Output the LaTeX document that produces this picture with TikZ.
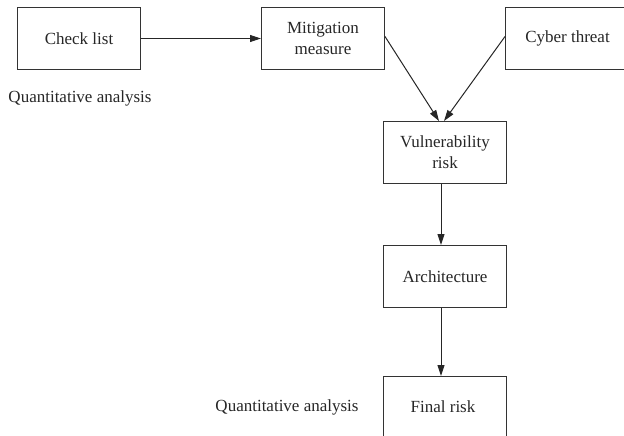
\documentclass[tikz,border=0pt]{standalone}
\usepackage{fontspec}
\setmainfont{Liberation Serif}
\usetikzlibrary{arrows.meta}
\begin{document}
\begin{tikzpicture}[x=1pt,y=-1pt,
  box/.style={draw=black!80, line width=1pt, minimum width=123pt, minimum height=62pt,
    inner sep=0pt, align=center, anchor=north west, text=black!85,
    font=\fontsize{17}{21}\selectfont},
  lbl/.style={text=black!85, inner sep=0pt, font=\fontsize{17}{21}\selectfont},
  conn/.style={draw=black!85, line width=1pt, -{Triangle[length=11pt,width=7pt]}}]
  % page frame
  \clip (0,0) rectangle (624,436);
  % top row
  \node[box] (check) at (17,7) {Check list};
  \node[box] (mitig) at (261,7) {Mitigation\\measure};
  \node[box, minimum width=124pt] (cyber) at (505,7) {Cyber threat};
  % central column
  \node[box] (vuln) at (383,121) {Vulnerability\\risk};
  \node[box] (arch) at (383,245) {Architecture};
  \node[box, minimum height=64pt] (final) at (383,376) {};
  \node[lbl] (finaltxt) at (443,407) {Final risk};
  % side labels
  \node[lbl] (qa1) at (80,98) {Quantitative analysis};
  \node[lbl] (qa2) at (287,407) {Quantitative analysis};
  % connectors
  \draw[conn] (check.east) -- (mitig.west);
  \draw[conn] ([yshift=2pt]mitig.east) -- ([xshift=-6pt]vuln.north);
  \draw[conn] ([yshift=2pt]cyber.west) -- ([xshift=-1pt]vuln.north);
  \draw[conn] ([xshift=-4pt]vuln.south) -- ([xshift=-4pt]arch.north);
  \draw[conn] ([xshift=-4pt]arch.south) -- ([xshift=-4pt]final.north);
\end{tikzpicture}
\end{document}
